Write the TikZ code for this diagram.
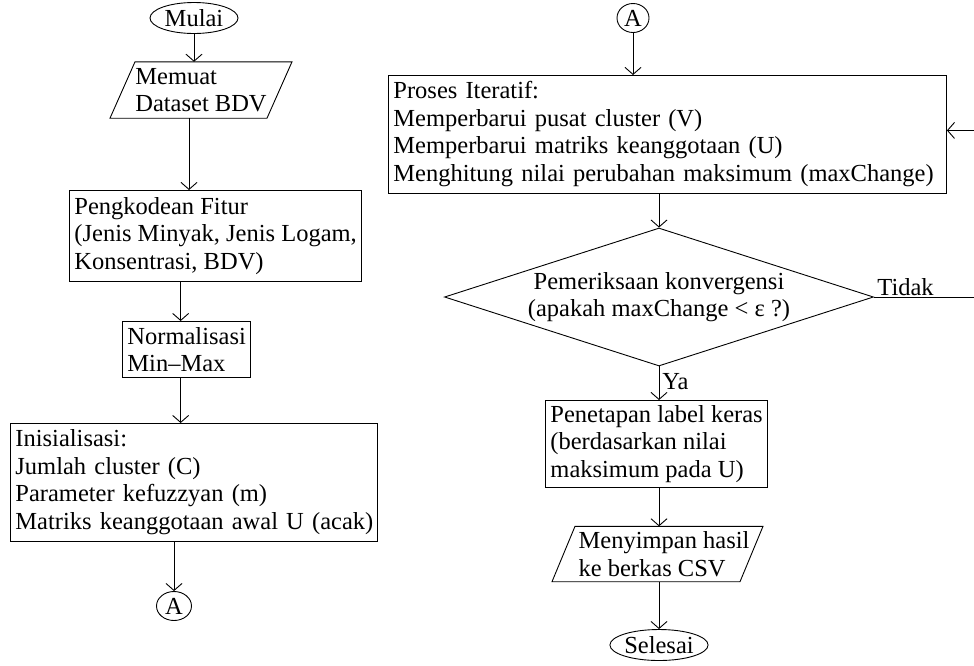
\documentclass[tikz,border=0pt]{standalone}
\usepackage{fontspec}
\setmainfont{Liberation Serif}
\usetikzlibrary{shapes.geometric,arrows.meta}
\newcommand{\txtlines}[1]{\begin{tabular}{@{}l@{}}#1\end{tabular}}
\begin{document}
\begin{tikzpicture}[x=1pt,y=-1pt,
  every node/.style={font=\fontsize{24.5}{27.5}\selectfont},
  line/.style={draw=black, line width=0.9pt},
  arr/.style={line, -{Straight Barb[length=7pt,width=16pt,line width=0.9pt]}},
  term/.style={ellipse, draw=black, line width=0.9pt, inner sep=0pt},
  procbox/.style={draw=black, line width=0.9pt, rectangle, inner xsep=5pt, inner ysep=2pt, align=left},
  iotext/.style={inner sep=0pt, align=left, minimum height=56pt},
]
\useasboundingbox (0,0) rectangle (974,665);

% ---- left column ----
\node[term, minimum width=88pt, minimum height=31pt] (mulai) at (194,18) {Mulai};
\node[iotext] (memuat) at (201,90) {Memuat\\Dataset BDV};
\draw[line] ([xshift=-66pt]memuat.north) -- ([xshift=91pt]memuat.north)
  -- ([xshift=66pt]memuat.south) -- ([xshift=-91pt]memuat.south) -- cycle;
\node[procbox, anchor=north west, minimum height=91pt] (peng) at (69,190)
  {Pengkodean Fitur\\(Jenis Minyak, Jenis Logam,\\Konsentrasi, BDV)};
\node[procbox, anchor=north west, minimum height=56pt] (norm) at (122,321)
  {Normalisasi\\Min--Max};
\node[procbox, anchor=north west, minimum height=118pt, text width=357pt] (init) at (10,423)
  {\txtlines{Inisialisasi:\\Jumlah cluster (C)\\Parameter kefuzzyan (m)\\Matriks keanggotaan awal U (acak)}};
\node[term, minimum width=35pt, minimum height=29pt] (a1) at (174,606) {A};

\draw[arr] (mulai.south) -- (mulai.south |- memuat.north);
\draw[arr] ([xshift=-12pt]memuat.south) -- ([xshift=-12pt]memuat.south |- peng.north);
\draw[arr] ([xshift=-6pt]norm.north |- peng.south) -- ([xshift=-6pt]norm.north);
\draw[arr] ([xshift=-6pt]norm.south) -- ([xshift=-6pt]norm.south |- init.north);
\draw[arr] (a1.north |- init.south) -- (a1.north);

% ---- right column ----
\node[term, minimum width=32pt, minimum height=29pt] (a2) at (633,18) {A};
\node[procbox, anchor=north west, minimum height=118pt, text width=548pt] (proc) at (388,75)
  {\txtlines{Proses Iteratif:\\Memperbarui pusat cluster (V)\\Memperbarui matriks keanggotaan (U)\\Menghitung nilai perubahan maksimum (maxChange)}};
\node[diamond, draw=black, line width=0.9pt, inner sep=0pt, aspect=3.1,
  minimum width=429pt, minimum height=138pt, align=center] (dec) at (659,297)
  {Pemeriksaan konvergensi\\(apakah maxChange < ε ?)};
\node[procbox, anchor=north west, minimum height=87pt] (pen) at (545,400)
  {Penetapan label keras\\(berdasarkan nilai\\maksimum pada U)};
\node[iotext, minimum height=55pt] (simpan) at (664,554) {Menyimpan hasil\\ke berkas CSV};
\draw[line] ([xshift=-89pt]simpan.north) -- ([xshift=99pt]simpan.north)
  -- ([xshift=76pt]simpan.south) -- ([xshift=-112pt]simpan.south) -- cycle;
\node[term, minimum width=92pt, minimum height=31pt] (selesai) at (659,645) {Selesai};

\draw[arr] (a2.south) -- (a2.south |- proc.north);
\draw[arr] (dec.north |- proc.south) -- (dec.north);
\draw[arr] (dec.south) -- node[right, pos=0.45, inner sep=3pt] {Ya} (dec.south |- pen.north);
\draw[arr] (dec.south |- pen.south) -- (dec.south |- simpan.north);
\draw[arr] (dec.south |- simpan.south) -- (selesai.north);
\draw[arr] (dec.east) node[above right, inner xsep=3pt, inner ysep=1pt] {Tidak}
  -- ++(102,0) |- ([yshift=4pt]proc.east);
\end{tikzpicture}
\end{document}
